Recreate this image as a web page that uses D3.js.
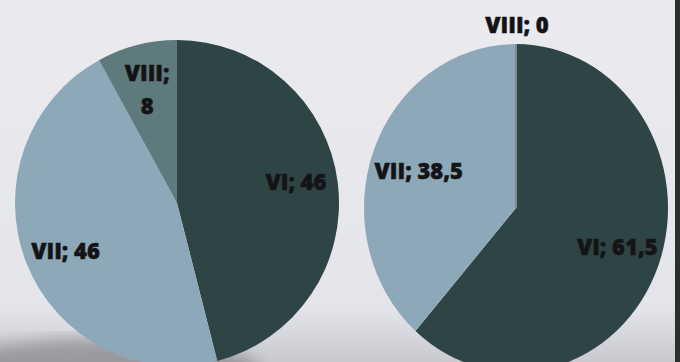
<!DOCTYPE html>
<html>
<head>
<meta charset="utf-8">
<script src="https://cdn.jsdelivr.net/npm/d3@7"></script>
<style>
  html, body { margin: 0; padding: 0; background: #e8e8ed; }
  svg { display: block; }
</style>
</head>
<body>
<svg id="chart" width="680" height="362"></svg>
<script>
// Grade shares (%) for two groups
const grades = ["VI", "VII", "VIII"];
const groupA = [46, 46, 8];
const groupB = [61.5, 38.5, 0];

const colors = d3.scaleOrdinal()
  .domain(grades)
  .range(["#2f4444", "#8da9b9", "#5f7a7c"]);

const svg = d3.select("#chart");

// paper background with a soft darker band at the bottom
const defs = svg.append("defs");
const bg = defs.append("linearGradient").attr("id", "paper")
  .attr("x1", 0).attr("y1", 0).attr("x2", 0).attr("y2", 1);
bg.append("stop").attr("offset", "0%").attr("stop-color", "#ebebef");
bg.append("stop").attr("offset", "85%").attr("stop-color", "#e4e5ea");
bg.append("stop").attr("offset", "100%").attr("stop-color", "#c9cacf");
svg.append("rect").attr("width", 680).attr("height", 362).attr("fill", "url(#paper)");
defs.append("filter").attr("id", "soft")
  .append("feGaussianBlur").attr("stdDeviation", 8);
svg.append("ellipse").attr("cx", 100).attr("cy", 370).attr("rx", 160).attr("ry", 32)
  .attr("fill", "#85848a").attr("opacity", 0.7).attr("filter", "url(#soft)");
svg.append("rect").attr("x", 675).attr("y", 0).attr("width", 5).attr("height", 362)
  .attr("fill", "#2a302c");

const pie = d3.pie().sort(null).value(d => d.value);
const R = 100;
const arc = d3.arc().innerRadius(0).outerRadius(R);

const fmt = v => String(v).replace(".", ",");

// nudge: per-slice [dx, dy] label offsets in pixels
function drawPie(values, cx, cy, rx, ry, labelK, nudge) {
  const data = grades.map((g, i) => ({ grade: g, value: values[i] }));
  const arcs = pie(data);
  const g = svg.append("g")
    .attr("transform", `translate(${cx},${cy}) scale(${rx / R},${ry / R})`);
  g.selectAll("path").data(arcs).join("path")
    .attr("d", arc)
    .attr("fill", d => colors(d.data.grade))
    .attr("stroke", d => d.data.value === 0 ? "#7d8c8e" : "none")
    .attr("stroke-width", d => d.data.value === 0 ? 2 * R / rx : 0);

  const labels = svg.append("g")
    .attr("font-family", "'Open Sans', sans-serif")
    .attr("font-weight", 800)
    .attr("font-size", 22)
    .attr("fill", "#141416")
    .attr("stroke", "#141416")
    .attr("stroke-width", 0.5)
    .attr("text-anchor", "middle");

  arcs.forEach((d, i) => {
    const mid = (d.startAngle + d.endAngle) / 2;
    const span = d.endAngle - d.startAngle;
    const [nx, ny] = nudge[i];
    const txt = labels.append("text");
    if (d.data.value === 0) {
      // empty slice: label sits above the pie
      txt.attr("x", cx + Math.sin(mid) * rx + nx)
        .attr("y", cy - ry - 11 + ny)
        .text(`${d.data.grade}; ${fmt(d.data.value)}`);
    } else {
      const x = cx + Math.sin(mid) * rx * labelK + nx;
      const y = cy - Math.cos(mid) * ry * labelK + ny;
      if (span < 0.6) {
        // narrow slice: label on two lines
        txt.attr("x", x).attr("y", y - 6).text(`${d.data.grade};`);
        labels.append("text").attr("x", x).attr("y", y + 27).text(fmt(d.data.value));
      } else {
        txt.attr("x", x).attr("y", y + 8).text(`${d.data.grade}; ${fmt(d.data.value)}`);
      }
    }
  });
}

drawPie(groupA, 177, 203, 162, 163, 0.74, [[0, -6], [0, 4], [0, 1]]);
drawPie(groupB, 516, 208, 152, 164, 0.67, [[6, 0], [-2, 2], [1, 0]]);
</script>
</body>
</html>
